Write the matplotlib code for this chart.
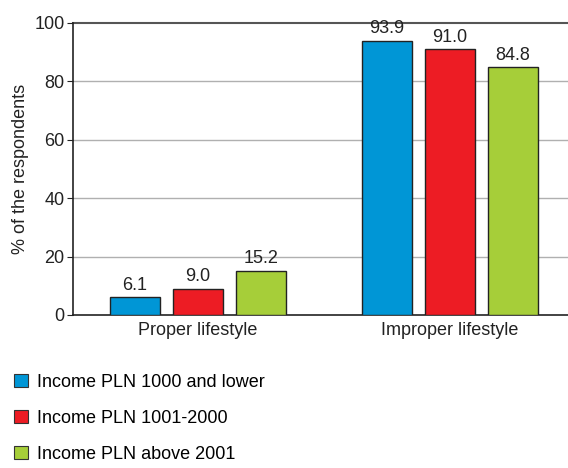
import matplotlib.pyplot as plt
import numpy as np
from matplotlib.font_manager import fontManager

names = {f.name for f in fontManager.ttflist}
fam = 'Liberation Sans Narrow' if 'Liberation Sans Narrow' in names else 'Liberation Sans'
plt.rcParams['font.family'] = [fam, 'DejaVu Sans']

categories = ['Proper lifestyle', 'Improper lifestyle']
series = ['Income PLN 1000 and lower', 'Income PLN 1001-2000', 'Income PLN above 2001']
low = [6.1, 93.9]
mid = [9.0, 91.0]
high = [15.2, 84.8]
colors = ['#0096d6', '#ed1c24', '#a6ce39']

fig = plt.figure(figsize=(5.68, 4.68), dpi=100)
ax = fig.add_axes([0.1285, 0.327, 0.8715, 0.624])

x = np.arange(len(categories))
w = 0.2
step = 0.25
for i, (vals, c, lab) in enumerate(zip([low, mid, high], colors, series)):
    pos = x + (i - 1) * step
    bars = ax.bar(pos, vals, w, color=c, edgecolor='#222222', linewidth=1, label=lab, zorder=3)
    for b, v in zip(bars, vals):
        ax.text(b.get_x() + b.get_width() / 2, v + 1.2, f'{v:.1f}', ha='center', va='bottom',
                fontsize=13, color='#222222', zorder=4)

ax.set_xlim(-0.496, 1.468)
ax.set_ylim(0, 100)
ax.set_yticks([0, 20, 40, 60, 80, 100])
ax.set_xticks(x)
ax.set_xticklabels(categories)
ax.tick_params(axis='x', length=0, labelsize=13, pad=5, colors='#222222')
ax.tick_params(axis='y', length=4, labelsize=13, pad=2, colors='#222222')
ax.set_ylabel('% of the respondents', fontsize=13, color='#222222', labelpad=4)

for yv in [20, 40, 60, 80]:
    ax.axhline(yv, color='#b0b0b0', linewidth=1, zorder=1)
ax.axhline(100, color='#555555', linewidth=1.5, zorder=1, clip_on=False)

ax.spines['top'].set_visible(False)
ax.spines['right'].set_visible(False)
ax.spines['left'].set_color('#222222')
ax.spines['bottom'].set_color('#222222')
ax.spines['left'].set_linewidth(1.2)
ax.spines['bottom'].set_linewidth(1.2)

leg = fig.legend(loc='upper left', bbox_to_anchor=(0.012, 0.216), frameon=False,
                 fontsize=13, handlelength=0.75, handleheight=0.75, labelspacing=1.05,
                 handletextpad=0.5, borderaxespad=0)
for h in leg.legend_handles:
    h.set_edgecolor('#333333')
    h.set_linewidth(0.8)

fig.savefig('out.png', dpi=100)
